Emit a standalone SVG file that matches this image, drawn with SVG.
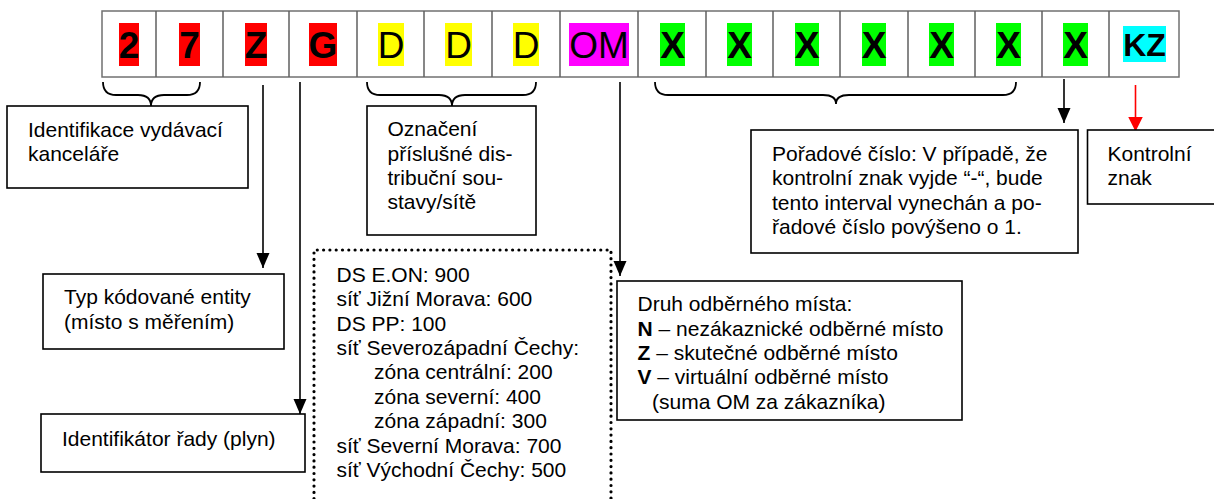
<svg xmlns="http://www.w3.org/2000/svg" width="1214" height="499" viewBox="0 0 1214 499">
<style>
text{font-family:"Liberation Sans",Arial,sans-serif;fill:#000}
.big{font-size:37px;text-anchor:middle}
.b{font-weight:bold}
.t{font-size:21px}
.box{fill:#fff;stroke:#000;stroke-width:1.6}
.cell{fill:#fff;stroke:#707070;stroke-width:1.5}
.red{fill:#ff0000}.yel{fill:#ffff00}.mag{fill:#ff00ff}.grn{fill:#00ff00}.cya{fill:#00ffff}
.con{fill:none;stroke:#000;stroke-width:1.6}
.brace{fill:none;stroke:#000;stroke-width:1.8}
</style>
<defs>
<marker id="ah" markerUnits="userSpaceOnUse" markerWidth="16" markerHeight="14" refX="15" refY="6.5" orient="auto" viewBox="0 0 16 13">
<path d="M0,0 L15,6.5 L0,13 Z" fill="#000"/>
</marker>
<marker id="ahr" markerUnits="userSpaceOnUse" markerWidth="16" markerHeight="16" refX="15" refY="7.5" orient="auto" viewBox="0 0 16 15">
<path d="M0,0 L15,7.5 L0,15 Z" fill="#ff0000"/>
</marker>
</defs>

<g id="code-row">
<rect class="cell" x="102" y="11" width="1077" height="66"/>
<path d="M156,11V77M223,11V77M289,11V77M357,11V77M424,11V77M492,11V77M560,11V77M638,11V77M706,11V77M773,11V77M840,11V77M908,11V77M975,11V77M1042,11V77M1109,11V77" stroke="#606060" stroke-width="1.5"/>
<rect class="red" x="119" y="23" width="20" height="43"/>
<rect class="red" x="179" y="23" width="21" height="43"/>
<rect class="red" x="245" y="23" width="22" height="43"/>
<rect class="red" x="309" y="23" width="28" height="43"/>
<rect class="yel" x="378" y="23" width="26" height="43"/>
<rect class="yel" x="445" y="23" width="27" height="43"/>
<rect class="yel" x="513" y="23" width="26" height="43"/>
<rect class="mag" x="569" y="23" width="60" height="43"/>
<rect class="grn" x="660" y="23" width="25" height="43"/>
<rect class="grn" x="727" y="23" width="25" height="43"/>
<rect class="grn" x="795" y="23" width="24" height="43"/>
<rect class="grn" x="862" y="23" width="24" height="43"/>
<rect class="grn" x="929" y="23" width="25" height="43"/>
<rect class="grn" x="996" y="23" width="25" height="43"/>
<rect class="grn" x="1063" y="23" width="25" height="43"/>
<rect class="cya" x="1123" y="26" width="43" height="36"/>
<text class="big b" x="129" y="57.5">2</text>
<text class="big b" x="189.5" y="57.5">7</text>
<text class="big b" x="256" y="57.5">Z</text>
<text class="big b" x="323" y="57.5">G</text>
<text class="big" x="391" y="57.5">D</text>
<text class="big" x="458.5" y="57.5">D</text>
<text class="big" x="526" y="57.5">D</text>
<text class="big" x="599" y="57.5">OM</text>
<text class="big b" x="672.5" y="57.5">X</text>
<text class="big b" x="739.5" y="57.5">X</text>
<text class="big b" x="807" y="57.5">X</text>
<text class="big b" x="874" y="57.5">X</text>
<text class="big b" x="941.5" y="57.5">X</text>
<text class="big b" x="1008.5" y="57.5">X</text>
<text class="big b" x="1075.5" y="57.5">X</text>
<text class="b" x="1144.5" y="55.5" font-size="32" text-anchor="middle">KZ</text>
</g>

<g id="connectors">
<path class="brace" d="M103,82 Q103,95 116,95 L138,95 Q151,95 151,106 Q151,95 164,95 L187,95 Q200,95 200,82"/>
<path class="brace" d="M367,82 Q367,95 380,95 L439,95 Q452,95 452,106 Q452,95 465,95 L523,95 Q536,95 536,82"/>
<path class="brace" d="M655,82 Q655,95 668,95 L823,95 Q836,95 836,104 Q836,95 849,95 L1003,95 Q1016,95 1016,82"/>
<line class="con" x1="263" y1="85" x2="263" y2="268" marker-end="url(#ah)"/>
<line class="con" x1="300" y1="82" x2="300" y2="414" marker-end="url(#ah)"/>
<line class="con" x1="620" y1="82" x2="620" y2="276" marker-end="url(#ah)"/>
<line class="con" x1="1064" y1="79" x2="1064" y2="123" marker-end="url(#ah)"/>
<line x1="1135.5" y1="85" x2="1135.5" y2="131.5" stroke="#ff0000" stroke-width="1.6" marker-end="url(#ahr)"/>
</g>

<g id="office">
<rect class="box" x="7" y="106" width="241" height="82"/>
<text class="t" x="28" y="137">Identifikace vydávací</text>
<text class="t" x="28" y="160.5">kanceláře</text>
</g>

<g id="entity-type">
<rect class="box" x="43" y="274" width="241" height="75"/>
<text class="t" x="64" y="304">Typ kódované entity</text>
<text class="t" x="64" y="329">(místo s měřením)</text>
</g>

<g id="series-id">
<rect class="box" x="41" y="414" width="264" height="58"/>
<text class="t" x="62" y="446">Identifikátor řady (plyn)</text>
</g>

<g id="network">
<rect class="box" x="367" y="106" width="169" height="129"/>
<text class="t" x="387.5" y="136">Označení</text>
<text class="t" x="387.5" y="160.5">příslušné dis-</text>
<text class="t" x="387.5" y="184.5">tribuční sou-</text>
<text class="t" x="387.5" y="208.5">stavy/sítě</text>
</g>

<g id="network-codes">
<path d="M314,505 V250 H611 V505" fill="none" stroke="#000" stroke-width="3.2" stroke-linecap="round" stroke-dasharray="0 6.3"/>
<text class="t" x="336.5" y="281.5">DS E.ON: 900</text>
<text class="t" x="336.5" y="306">síť Jižní Morava: 600</text>
<text class="t" x="336.5" y="330.5">DS PP: 100</text>
<text class="t" x="336.5" y="354.5">síť Severozápadní Čechy:</text>
<text class="t" x="374" y="379">zóna centrální: 200</text>
<text class="t" x="374" y="403.5">zóna severní: 400</text>
<text class="t" x="374" y="428">zóna západní: 300</text>
<text class="t" x="336.5" y="452.5">síť Severní Morava: 700</text>
<text class="t" x="336.5" y="476.5">síť Východní Čechy: 500</text>
</g>

<g id="point-type">
<rect class="box" x="617" y="281" width="345" height="139"/>
<text class="t" x="637.5" y="311">Druh odběrného místa:</text>
<text class="t" x="637.5" y="335.5"><tspan class="b">N</tspan> – nezákaznické odběrné místo</text>
<text class="t" x="637.5" y="360"><tspan class="b">Z</tspan> – skutečné odběrné místo</text>
<text class="t" x="637.5" y="384"><tspan class="b">V</tspan> – virtuální odběrné místo</text>
<text class="t" x="652" y="408.5">(suma OM za zákazníka)</text>
</g>

<g id="sequence">
<rect class="box" x="751" y="130" width="327" height="123"/>
<text class="t" x="772" y="161">Pořadové číslo: V případě, že</text>
<text class="t" x="772" y="185">kontrolní znak vyjde “-“, bude</text>
<text class="t" x="772" y="209.5">tento interval vynechán a po-</text>
<text class="t" x="772" y="233.5">řadové číslo povýšeno o 1.</text>
</g>

<g id="check-char">
<rect class="box" x="1087.5" y="130" width="140" height="74"/>
<text class="t" x="1107.5" y="161">Kontrolní</text>
<text class="t" x="1107.5" y="185">znak</text>
</g>
</svg>
